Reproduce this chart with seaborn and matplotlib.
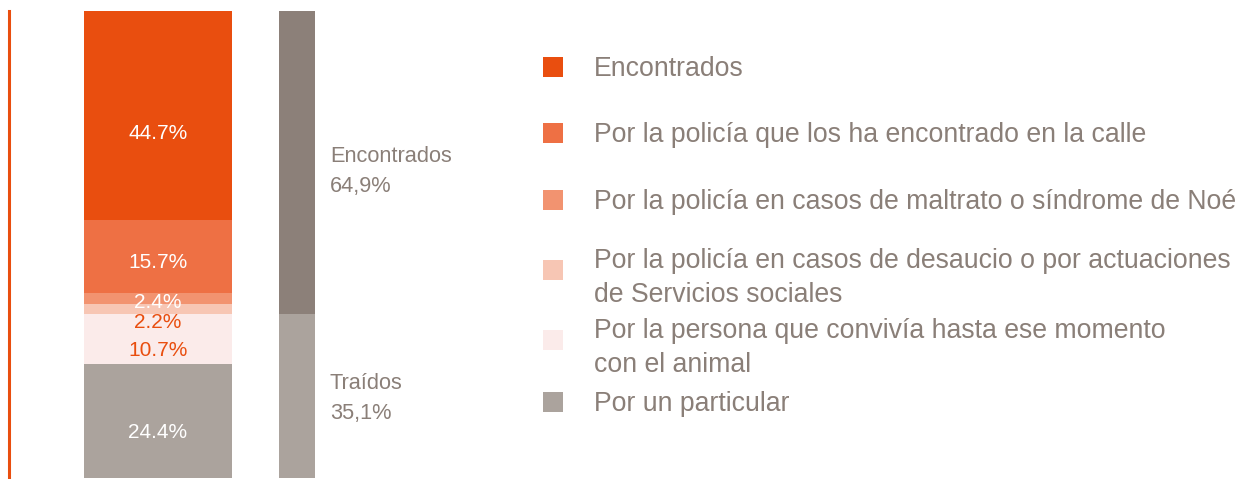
import pandas as pd
import matplotlib.pyplot as plt
from matplotlib.patches import Rectangle
import seaborn as sns

# datos
segmentos = ['Encontrados',
             'Por la policía que los ha encontrado en la calle',
             'Por la policía en casos de maltrato o síndrome de Noé',
             'Por la policía en casos de desaucio o por actuaciones\nde Servicios sociales',
             'Por la persona que convivía hasta ese momento\ncon el animal',
             'Por un particular']
valores = [44.7, 15.7, 2.4, 2.2, 10.7, 24.4]
etiquetas = ['44.7%', '15.7%', '2.4%', '2.2%', '10.7%', '24.4%']
grupos = ['Encontrados', 'Traídos']
grupos_valores = [64.9, 35.1]
grupos_etiquetas = ['64,9%', '35,1%']

# estilo
colores = ['#E94E0F', '#EE7044', '#F29370', '#F7C6B4', '#FBEBEA', '#ABA39D']
colores_grupos = ['#8C8079', '#ABA39D']
color_etq = ['white', 'white', 'white', '#E94E0F', '#E94E0F', 'white']
ajuste_etq = [-18, -6, -4, -13, -11, -11]  # px
ajuste_grupos = [-9, -2]  # px
gris = '#8A7F78'

sns.set_theme(style='white')
plt.rcParams['font.family'] = ['Liberation Sans', 'DejaVu Sans']

W, H = 1252, 479
fig = plt.figure(figsize=(W / 100, H / 100), dpi=100)
ax = fig.add_axes([8.5 / W, 1 / H, (315 - 8.5) / W, 467 / H])

orden = ['desglose', 'total']
unidad = 139  # px entre centros de barras
w1, w2 = 148 / unidad, 36 / unidad

df1 = pd.DataFrame({'barra': 'desglose', 'segmento': segmentos, 'valor': valores})
df1['acum'] = df1['valor'][::-1].cumsum()
df2 = pd.DataFrame({'barra': 'total', 'segmento': grupos, 'valor': grupos_valores})
df2['acum'] = df2['valor'][::-1].cumsum()

for i, fila in df1.iterrows():
    sns.barplot(x=[fila['barra']], y=[fila['acum']], order=orden, color=colores[i],
                width=w1, saturation=1, linewidth=0, ax=ax)
for i, fila in df2.iterrows():
    sns.barplot(x=[fila['barra']], y=[fila['acum']], order=orden, color=colores_grupos[i],
                width=w2, saturation=1, linewidth=0, ax=ax)

# etiquetas dentro de la barra
for i, fila in df1.iterrows():
    medio = fila['acum'] - fila['valor'] / 2
    ax.annotate(etiquetas[i], xy=(0, medio), xytext=(0, ajuste_etq[i] * 0.72),
                textcoords='offset points', ha='center', va='center',
                fontsize=15, color=color_etq[i])

for i, fila in df2.iterrows():
    medio = fila['acum'] - fila['valor'] / 2
    ax.annotate(f"{fila['segmento']}\n{grupos_etiquetas[i]}", xy=(1 + w2 / 2, medio),
                xytext=(15 * 0.72, ajuste_grupos[i] * 0.72), textcoords='offset points',
                ha='left', va='center', fontsize=15.7, color=gris, linespacing=1.55,
                annotation_clip=False)

ax.set_xlim(-(158 - 8.5) / unidad, 1 + 18 / unidad)
ax.set_ylim(0, sum(valores))
ax.set_xlabel('')
ax.set_ylabel('')
ax.set_xticks([])
ax.set_yticks([])
sns.despine(ax=ax, top=True, right=True, bottom=True, left=False)
ax.spines['left'].set_color(colores[0])
ax.spines['left'].set_linewidth(2.2)
ax.patch.set_alpha(0)

# leyenda
lax = fig.add_axes([0, 0, 1, 1])
lax.set_xlim(0, W)
lax.set_ylim(H, 0)
lax.axis('off')
base_leyenda = [76, 142, 209, 270, 340, 411]  # línea base de la primera línea
interlinea = 31.7
for seg, col, y in zip(segmentos, colores, base_leyenda):
    n = seg.count('\n')
    abajo = y + (10 if n else 1)
    lax.add_patch(Rectangle((543, abajo - 20), 20, 20, color=col, lw=0))
    lax.text(594, y + n * interlinea, seg, fontsize=19.2, color=gris, va='baseline',
             ha='left', linespacing=1.36)

fig.savefig('out.png', dpi=100)
